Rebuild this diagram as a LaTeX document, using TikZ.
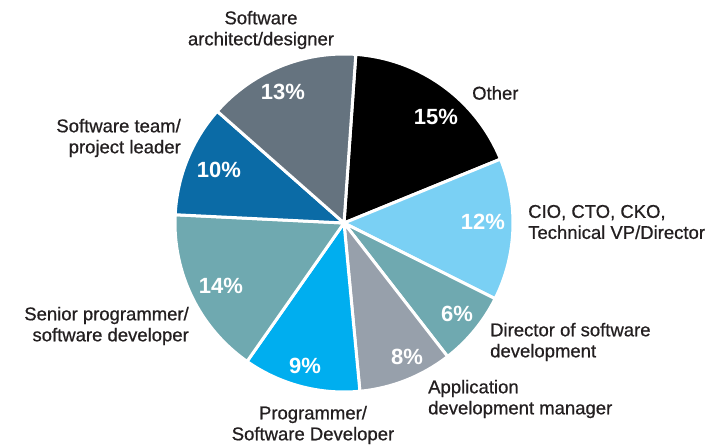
\documentclass[tikz,border=0pt]{standalone}
\usepackage{fontspec}
\setmainfont{Liberation Sans}
\newfontfamily\rolefont[FakeBold=0.7]{Liberation Sans}
\definecolor{archgray}{HTML}{65737F}
\definecolor{teamblue}{HTML}{0B6BA6}
\definecolor{seniorteal}{HTML}{6FA9B0}
\definecolor{progblue}{HTML}{00AEEF}
\definecolor{appgray}{HTML}{97A0AB}
\definecolor{cioblue}{HTML}{7AD0F4}
\definecolor{labeltext}{HTML}{231F20}
\tikzset{
	slice/.style={draw=white, line width=3pt, line join=round},
	pct/.style={text=white, inner sep=0pt, font=\fontsize{22}{22}\selectfont\bfseries},
	role/.style={text=labeltext, inner sep=0pt, font=\rolefont\fontsize{18.5}{21}\selectfont},
}
\begin{document}
\begin{tikzpicture}[x=1pt, y=1pt]
	\useasboundingbox (0,0) rectangle (727,444);
	\coordinate (c) at (344,221);
	\filldraw[slice, fill=black] (c) -- ++(86:169) arc (86:22.2:169) -- cycle;
	\filldraw[slice, fill=cioblue] (c) -- ++(22.2:169) arc (22.2:-26.6:169) -- cycle;
	\filldraw[slice, fill=seniorteal] (c) -- ++(-26.6:169) arc (-26.6:-52.2:169) -- cycle;
	\filldraw[slice, fill=appgray] (c) -- ++(-52.2:169) arc (-52.2:-84.6:169) -- cycle;
	\filldraw[slice, fill=progblue] (c) -- ++(-84.6:169) arc (-84.6:-125:169) -- cycle;
	\filldraw[slice, fill=seniorteal] (c) -- ++(-125:169) arc (-125:-182.8:169) -- cycle;
	\filldraw[slice, fill=teamblue] (c) -- ++(-182.8:169) arc (-182.8:-221.4:169) -- cycle;
	\filldraw[slice, fill=archgray] (c) -- ++(-221.4:169) arc (-221.4:-274:169) -- cycle;

	\node[pct] (pother) at (436,327) {15\%};
	\node[pct] (pcio) at (483,222) {12\%};
	\node[pct] (pdir) at (457,130) {6\%};
	\node[pct] (papp) at (407,87) {8\%};
	\node[pct] (pprog) at (305,78) {9\%};
	\node[pct] (psenior) at (221,158) {14\%};
	\node[pct] (pteam) at (219,274) {10\%};
	\node[pct] (parch) at (283,352) {13\%};

	\node[role, anchor=west] (other) at (472,351) {Other};
	\node[role, anchor=west, align=left] (cio) at (528,222) {CIO, CTO, CKO,\\Technical VP/Director};
	\node[role, anchor=west, align=left] (dirsw) at (490,102) {Director of software\\development};
	\node[role, anchor=west, align=left] (appdev) at (428,45) {Application\\development manager};
	\node[role, align=center] (prog) at (313,19) {Programmer/\\Software Developer};
	\node[role, anchor=east, align=right] (senior) at (189,118) {Senior programmer/\\software developer};
	\node[role, anchor=east, align=right] (team) at (181,306) {Software team/\\project leader};
	\node[role, align=center] (arch) at (261,414) {Software\\architect/designer};
\end{tikzpicture}
\end{document}
